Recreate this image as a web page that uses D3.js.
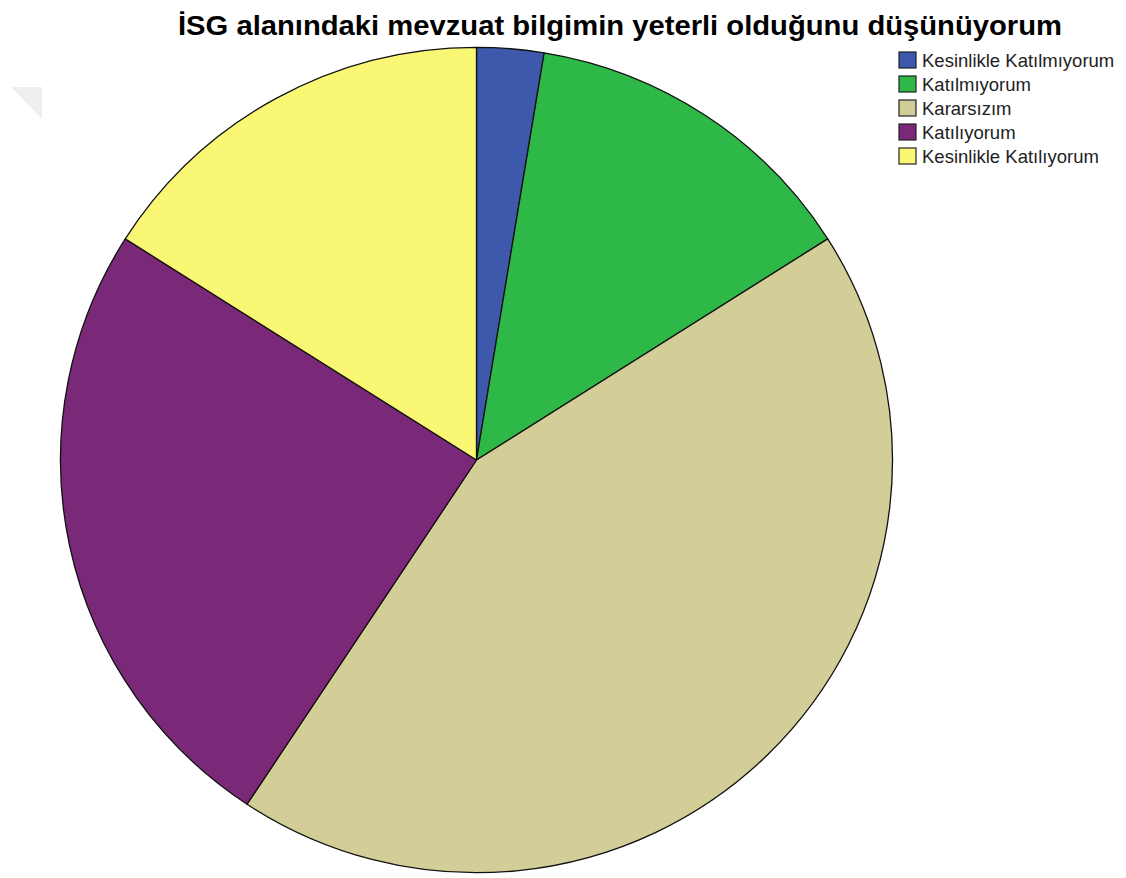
<!DOCTYPE html>
<html>
<head>
<meta charset="utf-8">
<script src="https://cdn.jsdelivr.net/npm/d3@7"></script>
<style>
  body { margin: 0; background: #fff; }
  text { font-family: "Liberation Sans", Arial, sans-serif; }
</style>
</head>
<body>
<div id="chart"></div>
<script>
let categories = ['Kesinlikle Katılmıyorum', 'Katılmıyorum', 'Kararsızım', 'Katılıyorum', 'Kesinlikle Katılıyorum']
let percents = [2.6, 13.4, 43.3, 24.7, 16.0]
let colors = ['#3e58ac', '#2eb848', '#d3ce97', '#7a2878', '#faf775']

let width = 1126
let height = 878
let radius = 416

let svg = d3.select('#chart').append('svg')
  .attr('width', width)
  .attr('height', height)

// faint watermark corner, top left
svg.append('path')
  .attr('d', 'M11,87 L42,87 L42,119 Z')
  .attr('fill', '#efefef')

svg.append('text')
  .attr('x', 178)
  .attr('y', 35)
  .attr('font-size', 28)
  .attr('font-weight', 'bold')
  .attr('fill', '#000')
  .attr('textLength', 884)
  .attr('lengthAdjust', 'spacingAndGlyphs')
  .text('İSG alanındaki mevzuat bilgimin yeterli olduğunu düşünüyorum')

let colorScale = d3.scaleOrdinal().domain(categories).range(colors)

let pie = d3.pie().sort(null).value(d => d.value)
let arc = d3.arc().innerRadius(0).outerRadius(radius)

let data = categories.map((c, i) => ({ name: c, value: percents[i] }))

let holder = svg.append('g')
  .attr('transform', 'translate(476.5,460) scale(1,0.992)')

holder.selectAll('.slice')
  .data(pie(data))
  .enter().append('path')
  .attr('class', 'slice')
  .attr('d', arc)
  .attr('fill', d => colorScale(d.data.name))
  .attr('stroke', '#111')
  .attr('stroke-width', 1.3)
  .attr('stroke-linejoin', 'round')

let legend = svg.append('g')
  .attr('transform', 'translate(899,52)')

let rowScale = d3.scaleBand().domain(categories).range([0, 120])

let rows = legend.selectAll('.legend-row')
  .data(categories)
  .enter().append('g')
  .attr('class', 'legend-row')
  .attr('transform', d => `translate(0,${rowScale(d)})`)

rows.append('rect')
  .attr('width', 17)
  .attr('height', 16)
  .attr('fill', d => colorScale(d))
  .attr('stroke', '#222')
  .attr('stroke-width', 1.2)

rows.append('text')
  .attr('x', 23)
  .attr('y', 15)
  .attr('font-size', 18.5)
  .attr('fill', '#222')
  .text(d => d)
</script>
</body>
</html>
